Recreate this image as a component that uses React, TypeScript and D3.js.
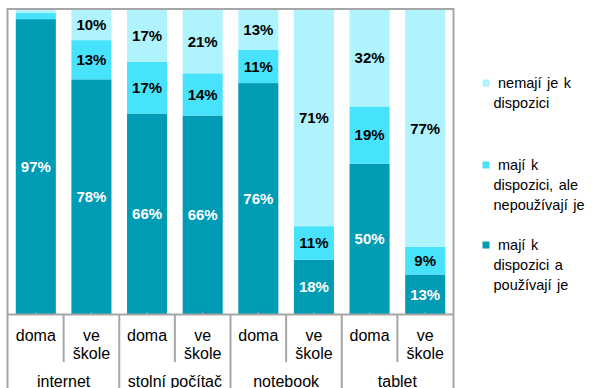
import React from "react";
import * as d3 from "d3";

const groups = ["internet", "stolní počítač", "notebook", "tablet"];
const places = ["doma", "ve škole"];
const seriesNames = [
  "mají k dispozici a používají je",
  "mají k dispozici, ale nepoužívají je",
  "nemají je k dispozici",
];
// order per bar: internet doma, internet ve škole, stolní doma, stolní ve škole, notebook doma, notebook ve škole, tablet doma, tablet ve škole
const usedValues = [97, 78, 66, 66, 76, 18, 50, 13];
const unusedValues = [2, 13, 17, 14, 11, 11, 19, 9];
const noneValues = [1, 10, 17, 21, 13, 71, 32, 77];
const colors = ["#009BB4", "#47E3FC", "#AEF3FD"];
const labelColors = ["#ffffff", "#000000", "#000000"];
const legendLines = [
  ["nemají je k", "dispozici"],
  ["mají k", "dispozici, ale", "nepoužívají je"],
  ["mají k", "dispozici a", "používají je"],
];

export default function App() {
  const W = 593, H = 388;
  const left = 8, right = 453, top = 10, bottom = 314.5;
  const bars = groups.flatMap((g) => places.map((p) => `${g}|${p}`));
  const x = d3.scaleBand().domain(bars).range([left, right]).paddingInner(0.28).paddingOuter(0.14);
  const y = d3.scaleLinear().domain([0, 1]).range([bottom, top]);
  const rows = bars.map((b, i) => {
    const vals = [usedValues[i], unusedValues[i], noneValues[i]];
    const total = d3.sum(vals);
    return { key: b, vals, total };
  });
  const stack = rows.map((r) => {
    let acc = 0;
    return r.vals.map((v, si) => {
      const y0 = acc / r.total;
      acc += v;
      const y1 = acc / r.total;
      return { si, v, y0, y1 };
    });
  });
  const step = x.step();
  const font = "'Liberation Sans', Arial, sans-serif";
  const gray = "#a6a6a6";
  const legendY = [83, 165, 245];

  return (
    <svg width={W} height={H} style={{ position: "absolute", left: 0, top: 0 }} fontFamily={font}>
      <rect x={0} y={0} width={W} height={H} fill="#fff" />
      {rows.map((r, i) =>
        stack[i].map((s) => (
          <rect
            key={r.key + s.si}
            x={x(r.key)}
            width={x.bandwidth()}
            y={y(s.y1)}
            height={y(s.y0) - y(s.y1)}
            fill={colors[s.si]}
          />
        ))
      )}
      {rows.map((r, i) =>
        stack[i].map((s) =>
          y(s.y0) - y(s.y1) > 12 ? (
            <text
              key={"l" + r.key + s.si}
              x={(x(r.key) as number) + x.bandwidth() / 2}
              y={(y(s.y0) + y(s.y1)) / 2}
              dy="0.35em"
              textAnchor="middle"
              fontSize={15}
              fontWeight="bold"
              fill={labelColors[s.si]}
            >
              {s.v}%
            </text>
          ) : null
        )
      )}
      {/* plot border */}
      <line x1={left - 0.5} x2={right + 0.5} y1={9} y2={9} stroke={gray} strokeWidth={2} />
      <line x1={left - 0.5} x2={left - 0.5} y1={8} y2={H} stroke={gray} strokeWidth={2} />
      <line x1={right + 0.5} x2={right + 0.5} y1={8} y2={H} stroke={gray} strokeWidth={2} />
      <line x1={left} x2={right} y1={bottom} y2={bottom} stroke={gray} strokeWidth={2} />
      {/* ticks at bar centers */}
      {bars.map((b) => (
        <line
          key={"t" + b}
          x1={(x(b) as number) + x.bandwidth() / 2}
          x2={(x(b) as number) + x.bandwidth() / 2}
          y1={bottom - 3}
          y2={bottom}
          stroke={gray}
          strokeWidth={1}
        />
      ))}
      {/* separators */}
      {groups.map((g, gi) => {
        const xs = (x(`${g}|${places[1]}`) as number) - (step - x.bandwidth()) / 2;
        const xg = (x(`${g}|${places[0]}`) as number) - (step - x.bandwidth()) / 2;
        return (
          <g key={"s" + g}>
            <line x1={xs} x2={xs} y1={bottom} y2={362} stroke={gray} strokeWidth={2} />
            {gi > 0 && <line x1={xg} x2={xg} y1={bottom} y2={H} stroke={gray} strokeWidth={2} />}
          </g>
        );
      })}
      {/* place labels */}
      {bars.map((b) => {
        const cx = (x(b) as number) + x.bandwidth() / 2;
        const p = b.split("|")[1];
        const lines = p === "ve škole" ? ["ve", "škole"] : [p];
        return (
          <text key={"p" + b} x={cx} y={335} textAnchor="middle" fontSize={16} fill="#000">
            {lines.map((ln, li) => (
              <tspan key={li} x={cx} dy={li === 0 ? "0.35em" : 18.5}>
                {ln}
              </tspan>
            ))}
          </text>
        );
      })}
      {groups.map((g) => {
        const x0 = (x(`${g}|${places[0]}`) as number) - (step - x.bandwidth()) / 2;
        return (
          <text key={"g" + g} x={x0 + step} y={381} dy="0.35em" textAnchor="middle" fontSize={16} fill="#000">
            {g}
          </text>
        );
      })}
      {/* legend */}
      {legendLines.map((lines, li) => {
        const ci = 2 - li;
        return (
          <g key={"lg" + li}>
            <rect x={482.5} y={legendY[li] - 3.5} width={7} height={7} fill={colors[ci]} />
            <text x={498} y={legendY[li]} fontSize={14.5} wordSpacing={1.5} fill="#000">
              {lines.map((ln, k) => (
                <tspan key={k} x={k === 0 ? 498 : 493.5} dy={k === 0 ? "0.35em" : 20}>
                  {ln}
                </tspan>
              ))}
            </text>
          </g>
        );
      })}
    </svg>
  );
}
